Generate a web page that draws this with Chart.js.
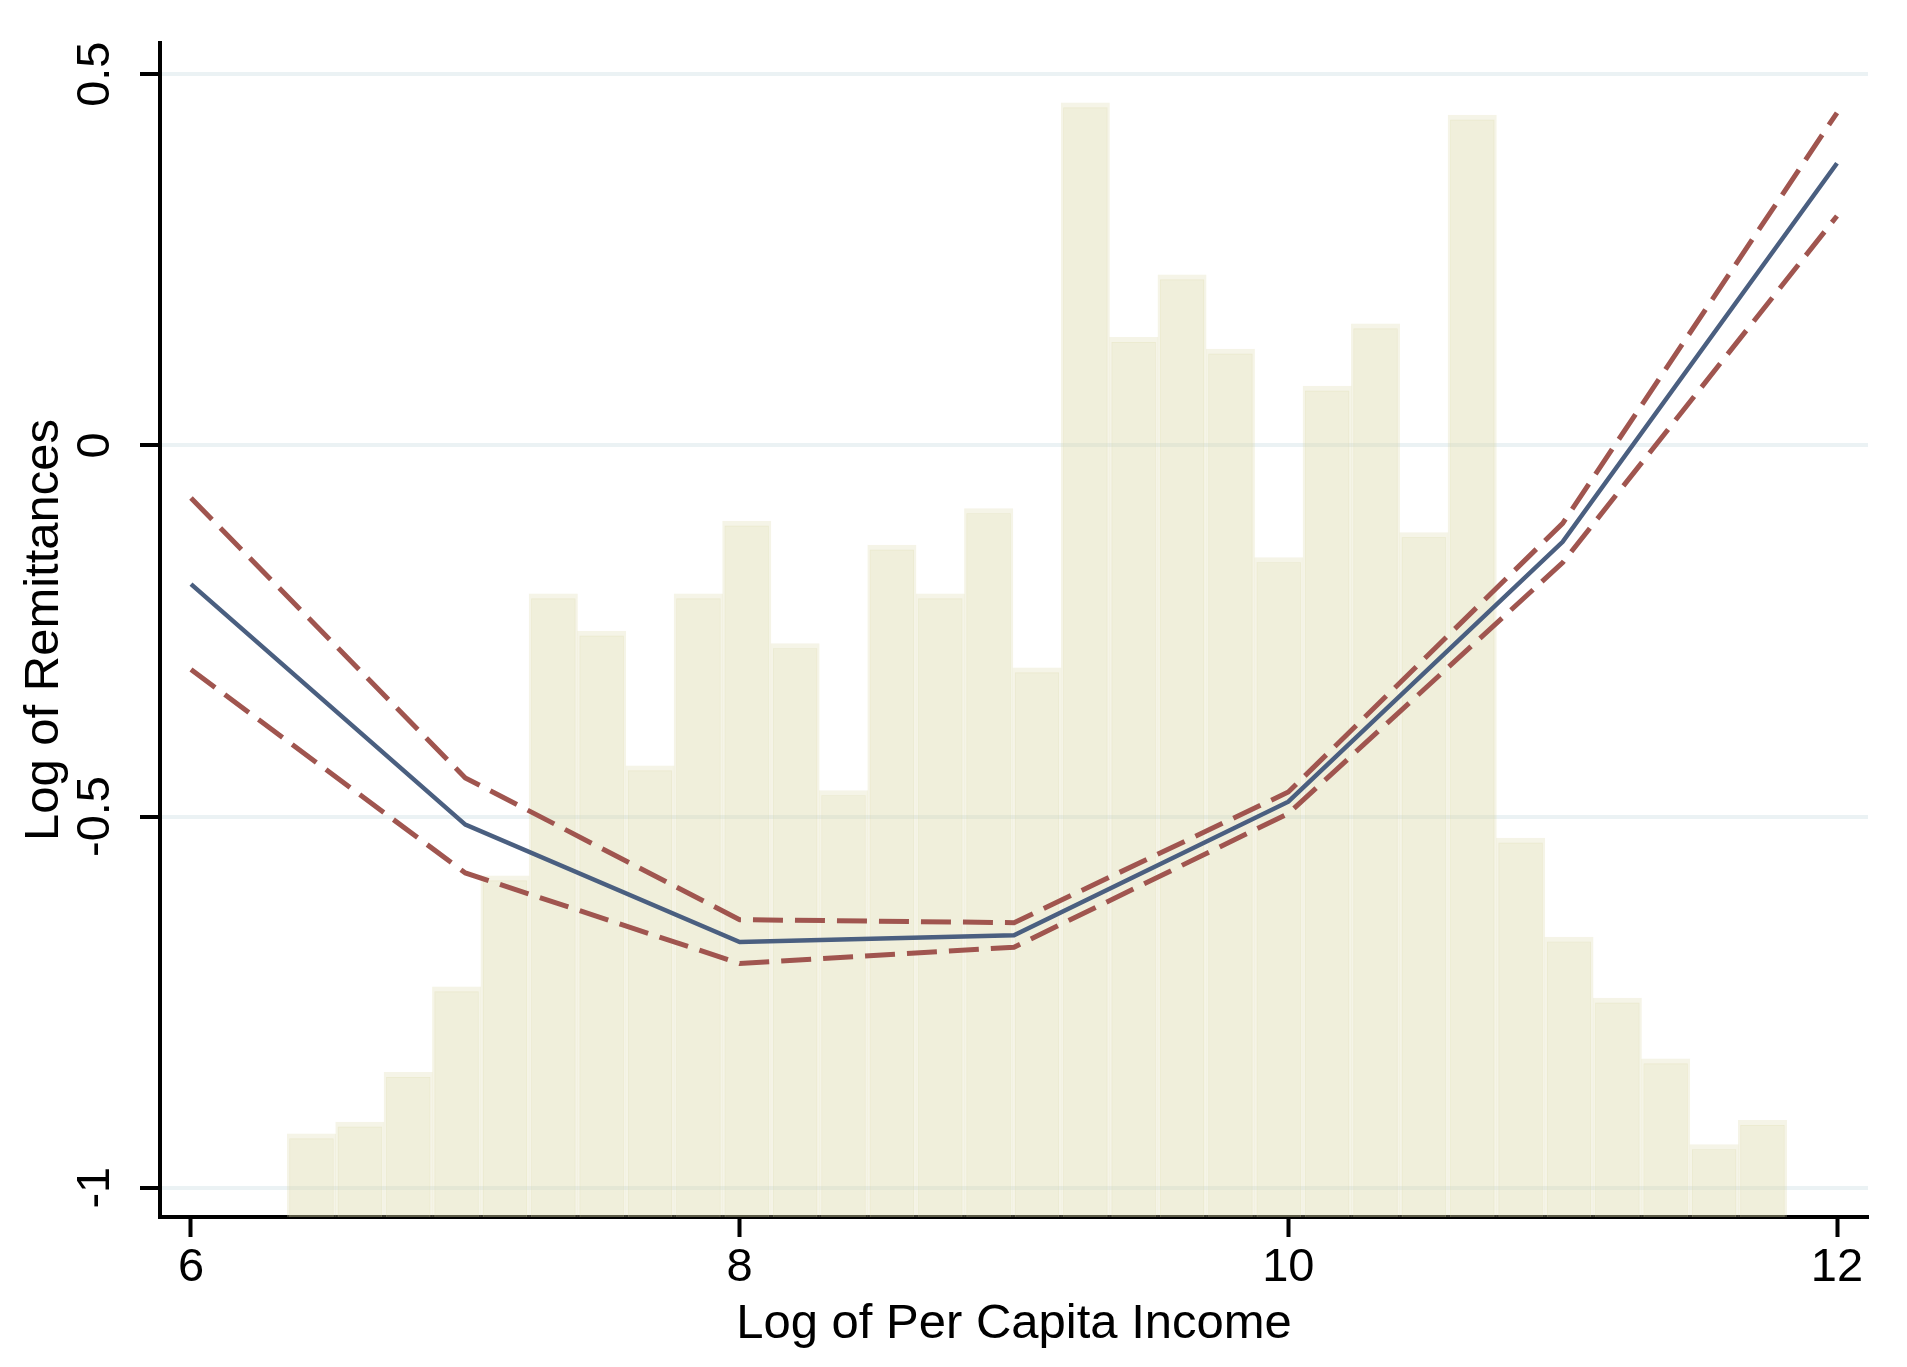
<!DOCTYPE html>
<html>
<head>
<meta charset="utf-8">
<script src="https://cdn.jsdelivr.net/npm/chart.js@4.4.1/dist/chart.umd.min.js"></script>
<style>
  html, body { margin: 0; padding: 0; background: #fff; }
  #wrap { width: 1907px; height: 1367px; }
</style>
</head>
<body>
<div id="wrap"><canvas id="chart1"></canvas></div>
<script>
// histogram of log per capita income (bin midpoints, density)
var binMid = [6.4392, 6.6155, 6.7918, 6.9681, 7.1444, 7.3207, 7.4970, 7.6733, 7.8496, 8.0259,
              8.2022, 8.3785, 8.5548, 8.7311, 8.9074, 9.0837, 9.2600, 9.4363, 9.6126, 9.7889,
              9.9652, 10.1415, 10.3178, 10.4941, 10.6704, 10.8467, 11.0230, 11.1993, 11.3756, 11.5519,
              11.7282];
var density = [0.0283, 0.0323, 0.0493, 0.0784, 0.1162, 0.2123, 0.1996, 0.1537, 0.2123, 0.2371,
               0.1954, 0.1453, 0.2289, 0.2123, 0.2414, 0.1871, 0.3796, 0.2997, 0.3210, 0.2957,
               0.2247, 0.2831, 0.3043, 0.2332, 0.3754, 0.1291, 0.0954, 0.0746, 0.0539, 0.0247,
               0.0329];

// fitted log of remittances with confidence band
var incomeX = [6, 7, 8, 9, 10, 11, 12];
var fitY    = [-0.187, -0.511, -0.669, -0.660, -0.480, -0.130, 0.380];
var ciUpper = [-0.071, -0.448, -0.639, -0.643, -0.467, -0.105, 0.448];
var ciLower = [-0.302, -0.576, -0.698, -0.676, -0.496, -0.158, 0.309];

var xTicks = [6, 8, 10, 12];
var yTicks = [-1, -0.5, 0, 0.5];

var FONT = "'Liberation Sans', Arial, sans-serif";

function pts(xs, ys) {
  return xs.map(function (x, i) { return { x: x, y: ys[i] }; });
}

var ctx1 = document.getElementById("chart1").getContext("2d");
var chart1 = new Chart(ctx1, {
  type: "bar",
  data: {
    datasets: [
      {
        type: "line",
        label: "Fit",
        data: pts(incomeX, fitY),
        borderColor: "#4a5f80",
        borderWidth: 4.5,
        pointRadius: 0,
        tension: 0,
        fill: false,
        yAxisID: "y",
        order: 0
      },
      {
        type: "line",
        label: "Upper",
        data: pts(incomeX, ciUpper),
        borderColor: "#a0554f",
        borderWidth: 5,
        borderDash: [30, 12],
        pointRadius: 0,
        tension: 0,
        fill: false,
        yAxisID: "y",
        order: 1
      },
      {
        type: "line",
        label: "Lower",
        data: pts(incomeX, ciLower),
        borderColor: "#a0554f",
        borderWidth: 5,
        borderDash: [30, 12],
        pointRadius: 0,
        tension: 0,
        fill: false,
        yAxisID: "y",
        order: 1
      },
      {
        type: "bar",
        label: "Density",
        data: pts(binMid, density),
        yAxisID: "yh",
        backgroundColor: "rgba(220, 216, 170, 0.42)",
        borderColor: "rgba(220, 216, 170, 0.28)",
        borderWidth: { top: 5, left: 2.5, right: 2.5, bottom: 0 },
        borderSkipped: false,
        barPercentage: 1,
        categoryPercentage: 1,
        order: 3
      }
    ]
  },
  options: {
    responsive: true,
    maintainAspectRatio: false,
    animation: false,
    layout: { padding: { top: 43, right: 39, left: 0, bottom: 0 } },
    plugins: {
      legend: { display: false },
      tooltip: { enabled: false }
    },
    scales: {
      x: {
        type: "linear",
        min: 5.887,
        max: 12.113,
        offset: false,
        afterBuildTicks: function (s) { s.ticks = xTicks.map(function (v) { return { value: v }; }); },
        afterFit: function (s) { s.height = 150; },
        grid: {
          drawOnChartArea: false,
          drawTicks: true,
          offset: false,
          tickLength: 20,
          tickColor: "#000",
          tickWidth: 4
        },
        border: { display: true, color: "#000", width: 4 },
        ticks: {
          color: "#000",
          font: { family: FONT, size: 47 },
          padding: 3,
          maxRotation: 0,
          autoSkip: false,
          callback: function (v) { return String(v); }
        },
        title: {
          display: true,
          text: "Log of Per Capita Income",
          color: "#000",
          font: { family: FONT, size: 49 },
          padding: { top: 0, bottom: 13 }
        }
      },
      y: {
        type: "linear",
        position: "left",
        min: -1.0395,
        max: 0.542,
        afterBuildTicks: function (s) { s.ticks = yTicks.map(function (v) { return { value: v }; }); },
        afterFit: function (s) { s.width = 160; },
        grid: {
          color: "#ebf2f4",
          lineWidth: 4,
          tickLength: 20,
          tickColor: "#000",
          tickWidth: 4
        },
        border: { display: true, color: "#000", width: 4 },
        ticks: {
          color: "#000",
          font: { family: FONT, size: 47 },
          padding: 3.5,
          minRotation: 90,
          maxRotation: 90,
          crossAlign: "center",
          autoSkip: false,
          callback: function (v) { return String(v); }
        },
        title: {
          display: true,
          text: "Log of Remittances",
          color: "#000",
          font: { family: FONT, size: 49 },
          padding: { top: 15, bottom: 0 }
        }
      },
      yh: {
        type: "linear",
        display: false,
        min: 0,
        max: 0.4
      }
    }
  }
});
</script>
</body>
</html>
